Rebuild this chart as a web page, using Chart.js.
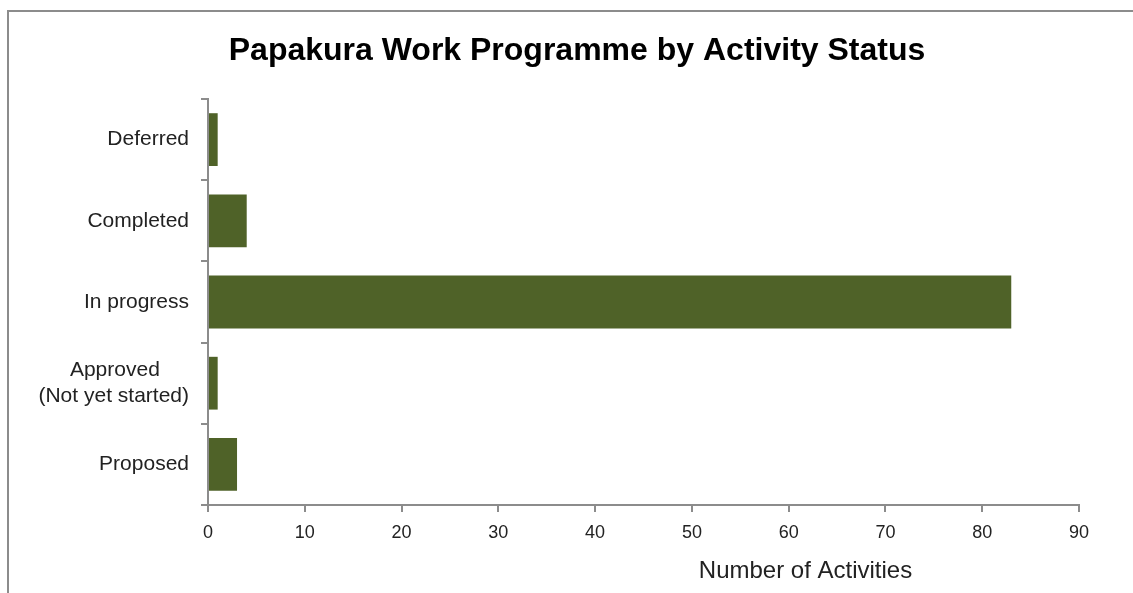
<!DOCTYPE html>
<html>
<head>
<meta charset="utf-8">
<script src="https://cdn.jsdelivr.net/npm/chart.js@4/dist/chart.umd.min.js"></script>
<style>
  html, body { margin: 0; padding: 0; background: #fff; }
  #wrap { width: 1133px; height: 593px; }
</style>
</head>
<body>
<div id="wrap"><canvas id="c" width="1133" height="593"></canvas></div>
<script>
const chartTitle = 'Papakura Work Programme by Activity Status';
const axisTitle = 'Number of Activities';
const categories = ['Deferred', 'Completed', 'In progress', ['Approved', '(Not yet started)'], 'Proposed'];
const activityCounts = [1, 4, 83, 1, 3];
const xTickMin = 0;
const xTickMax = 90;
const xTickStep = 10;

const FONT = '"Liberation Sans", Arial, sans-serif';
const AXIS_GRAY = '#8c8c8c';
const TEXT = '#222222';

const measureCtx = document.createElement('canvas').getContext('2d');
function centerLines(lines, px) {
  measureCtx.font = px + 'px ' + FONT;
  const widths = lines.map(l => measureCtx.measureText(l).width);
  const max = Math.max(...widths);
  const sp = measureCtx.measureText('\u00A0').width;
  return lines.map((l, i) => l + '\u00A0'.repeat(Math.round((max - widths[i]) / 2 / sp)));
}

const framePlugin = {
  id: 'frame',
  beforeDraw(chart) {
    const ctx = chart.ctx;
    ctx.save();
    ctx.fillStyle = '#ffffff';
    ctx.fillRect(0, 0, chart.width, chart.height);
    ctx.strokeStyle = AXIS_GRAY;
    ctx.lineWidth = 2;
    ctx.beginPath();
    ctx.moveTo(8, chart.height);
    ctx.lineTo(8, 11);
    ctx.lineTo(chart.width, 11);
    ctx.stroke();
    ctx.restore();
  },
  afterDraw(chart) {
    const ctx = chart.ctx;
    const a = chart.chartArea;
    ctx.save();
    ctx.textAlign = 'center';
    ctx.textBaseline = 'middle';
    ctx.fillStyle = '#000000';
    ctx.font = 'bold 32px ' + FONT;
    ctx.fillText(chartTitle, 577, 51);
    ctx.fillStyle = TEXT;
    ctx.font = '24px ' + FONT;
    ctx.fillText(axisTitle, a.left + (a.right - a.left) * 0.686, 571);
    ctx.restore();
  }
};

new Chart(document.getElementById('c'), {
  type: 'bar',
  data: {
    labels: categories,
    datasets: [{
      data: activityCounts,
      backgroundColor: '#4F6228',
      borderWidth: 0,
      barPercentage: 0.65,
      categoryPercentage: 1.0
    }]
  },
  options: {
    indexAxis: 'y',
    responsive: false,
    animation: false,
    devicePixelRatio: 1,
    layout: { padding: { left: 0, right: 54, top: 99, bottom: 0 } },
    plugins: {
      legend: { display: false },
      tooltip: { enabled: false },
      title: { display: false }
    },
    scales: {
      x: {
        type: 'linear',
        min: xTickMin,
        max: xTickMax,
        afterFit(scale) { scale.height = 88; },
        ticks: {
          stepSize: xTickStep,
          color: TEXT,
          padding: 10,
          font: { family: FONT, size: 18 }
        },
        grid: {
          drawOnChartArea: false,
          drawTicks: true,
          tickLength: 7,
          color: AXIS_GRAY,
          lineWidth: 2
        },
        border: { display: true, color: AXIS_GRAY, width: 2 }
      },
      y: {
        afterFit(scale) { scale.width = 208; },
        ticks: {
          color: TEXT,
          padding: 12,
          font: { family: FONT, size: 21, lineHeight: 1.2 },
          callback(value, index) {
            const lab = categories[index];
            return Array.isArray(lab) ? centerLines(lab, 21) : lab;
          }
        },
        grid: {
          drawOnChartArea: false,
          drawTicks: true,
          tickLength: 7,
          color: AXIS_GRAY,
          lineWidth: 2
        },
        border: { display: true, color: AXIS_GRAY, width: 2 }
      }
    }
  },
  plugins: [framePlugin]
});
</script>
</body>
</html>
